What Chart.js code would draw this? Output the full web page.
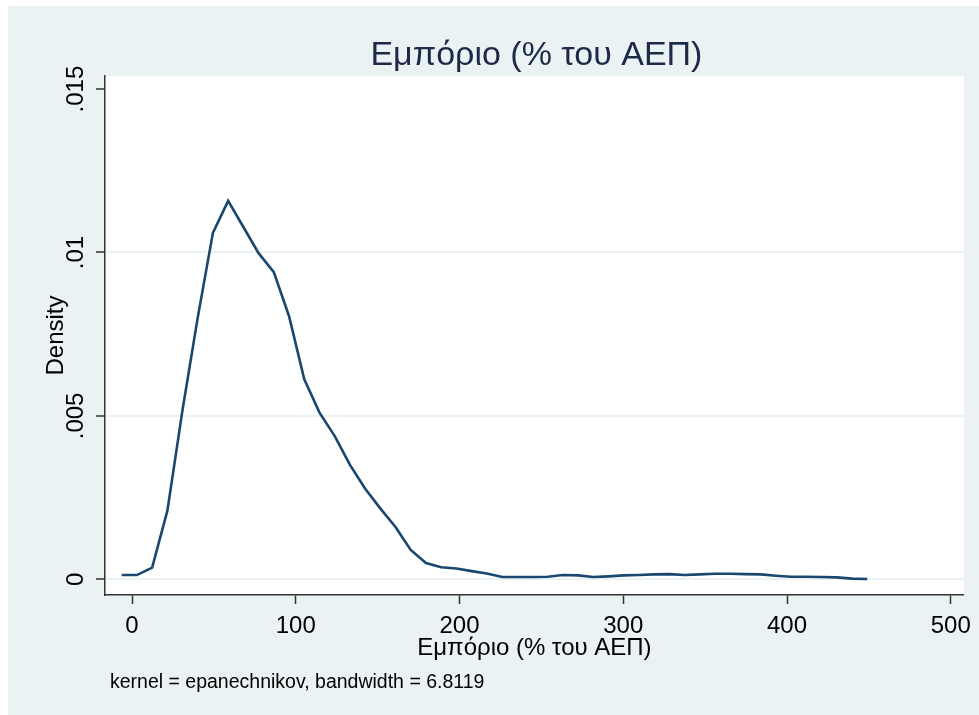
<!DOCTYPE html>
<html>
<head>
  <meta charset="utf-8">
  <script src="https://cdn.jsdelivr.net/npm/chart.js@4.4.0/dist/chart.umd.min.js"></script>
  <style>
    html, body { margin: 0; padding: 0; background: white; overflow: hidden; }
    #wrap { width: 979px; height: 715px; }
    canvas { display: block; }
  </style>
</head>
<body>
<div id="wrap"><canvas id="chartCanvas" width="979" height="715"></canvas></div>
<script>
// kernel density curve
const xValues = [-6.3, 3.0, 12.3, 21.6, 30.9, 40.1, 49.4, 58.7, 68.0, 77.3,
  86.6, 95.9, 105.2, 114.5, 123.8, 133.1, 142.3, 151.6, 160.9, 170.2,
  179.5, 188.8, 198.1, 207.4, 216.7, 226.0, 235.3, 244.5, 253.8, 263.1,
  272.4, 281.7, 291.0, 300.3, 309.6, 318.9, 328.2, 337.5, 346.7, 356.0,
  365.3, 374.6, 383.9, 393.2, 402.5, 411.8, 421.1, 430.4, 439.7, 449.0];
const densityValues = [0.00013, 0.00013, 0.00036, 0.0021, 0.0052, 0.0080, 0.0106, 0.01158, 0.01078, 0.00998,
  0.00940, 0.00805, 0.00612, 0.00510, 0.00438, 0.00350, 0.00278, 0.00217, 0.00160, 0.00090,
  0.00050, 0.00037, 0.00033, 0.00025, 0.00018, 0.00007, 0.00007, 0.00007, 0.00008, 0.00013,
  0.00012, 0.00007, 0.00009, 0.00012, 0.00013, 0.00015, 0.00016, 0.00013, 0.00015, 0.00017,
  0.00017, 0.00016, 0.00015, 0.00011, 0.00008, 0.00008, 0.00007, 0.00006, 0.00002, 0.00001];

const xTicks = [0, 100, 200, 300, 400, 500];
const yTicks = [0, 0.005, 0.01, 0.015];
const yTickLabels = ['0', '.005', '.01', '.015'];

const chartTitle = 'Εμπόριο (% του ΑΕΠ)';
const xTitle = 'Εμπόριο (% του ΑΕΠ)';
const yTitle = 'Density';
const note = 'kernel = epanechnikov, bandwidth = 6.8119';

const FONT = '"Liberation Sans", Arial, sans-serif';
const AXIS = '#333333';
const GRID = '#eaf2f3';

// graph region, plot region, title and note (Stata look)
const stataFrame = {
  id: 'stataFrame',
  beforeDraw(chart) {
    const { ctx, chartArea: a } = chart;
    ctx.save();
    ctx.fillStyle = '#ffffff';
    ctx.fillRect(0, 0, chart.width, chart.height);
    ctx.fillStyle = GRID;
    ctx.fillRect(8, 6, chart.width - 8, chart.height - 6);
    ctx.fillStyle = '#ffffff';
    ctx.fillRect(a.left, a.top, a.right - a.left, a.bottom - a.top);
    ctx.restore();
  },
  afterDraw(chart) {
    const { ctx, chartArea: a } = chart;
    ctx.save();
    ctx.fillStyle = '#1c2a48';
    ctx.font = '34px ' + FONT;
    ctx.textAlign = 'center';
    ctx.textBaseline = 'alphabetic';
    ctx.fillText(chartTitle, (a.left + a.right) / 2 + 2, 65);
    ctx.fillStyle = '#000000';
    ctx.font = '19.5px ' + FONT;
    ctx.textAlign = 'left';
    ctx.fillText(note, 110, 688);
    ctx.restore();
  }
};

const ctx = document.getElementById('chartCanvas').getContext('2d');
const chart = new Chart(ctx, {
  type: 'scatter',
  data: {
    datasets: [{
      data: xValues.map((x, i) => ({ x, y: densityValues[i] })),
      showLine: true,
      borderColor: '#1a476f',
      borderWidth: 2.6,
      pointRadius: 0,
      tension: 0
    }]
  },
  options: {
    responsive: false,
    animation: false,
    devicePixelRatio: 1,
    layout: { autoPadding: false, padding: { left: 8, top: 76, right: 14, bottom: 0 } },
    plugins: {
      legend: { display: false },
      tooltip: { enabled: false },
      title: { display: false }
    },
    scales: {
      x: {
        type: 'linear',
        min: -16.5,
        max: 508,
        afterBuildTicks: s => { s.ticks = xTicks.map(v => ({ value: v })); },
        afterFit: s => { s.height = 120; },
        ticks: { font: { family: FONT, size: 24 }, color: '#000', padding: 8, maxRotation: 0 },
        grid: { drawOnChartArea: false, tickLength: 9, tickColor: AXIS, tickWidth: 1.5 },
        border: { color: AXIS, width: 1.5 },
        title: { display: true, text: xTitle, color: '#000', font: { family: FONT, size: 24 }, padding: { top: 0, bottom: 52 } }
      },
      y: {
        min: -0.00048,
        max: 0.0154,
        afterBuildTicks: s => { s.ticks = yTicks.map(v => ({ value: v })); },
        afterFit: s => { s.width = 97; },
        ticks: {
          font: { family: FONT, size: 24 }, color: '#000',
          minRotation: 90, maxRotation: 90, crossAlign: 'center', padding: -4,
          callback: (v, i) => yTickLabels[i]
        },
        grid: {
          color: c => (c.tick && c.tick.value === 0.015) ? 'rgba(0,0,0,0)' : GRID,
          lineWidth: 2, tickLength: 9, tickColor: AXIS, tickWidth: 1.5
        },
        border: { color: AXIS, width: 1.5 },
        title: { display: true, text: yTitle, color: '#000', font: { family: FONT, size: 24 }, padding: { top: 34, bottom: 0 } }
      }
    }
  },
  plugins: [stataFrame]
});
</script>
</body>
</html>
